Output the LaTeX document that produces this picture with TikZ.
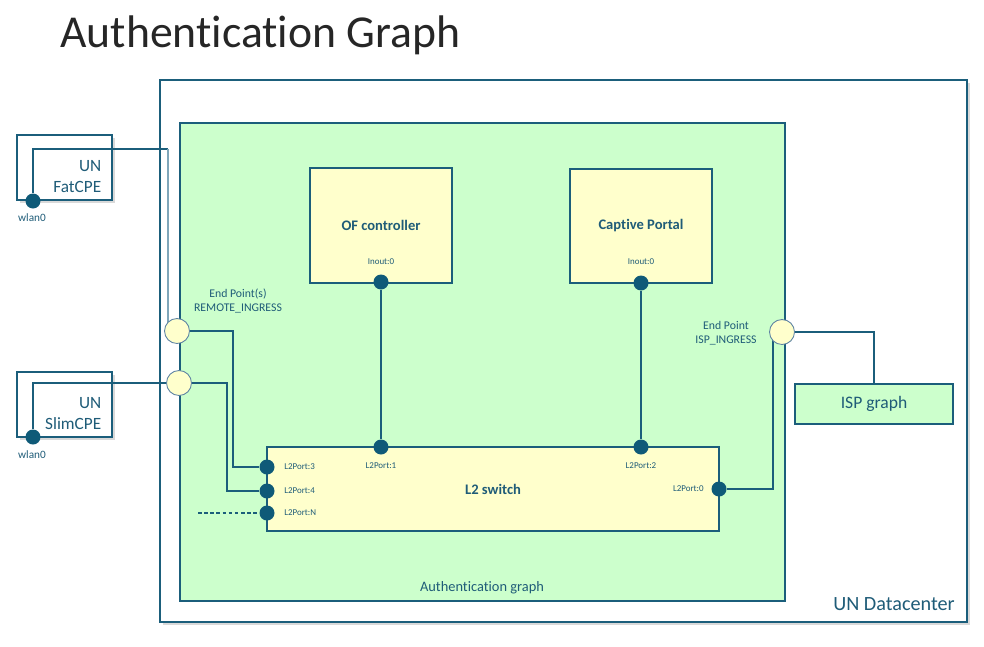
\documentclass[tikz,border=0pt]{standalone}
\usepackage{fontspec}
\setmainfont{Carlito}[RawFeature=-liga]
\usetikzlibrary{calc,fit,shadows}

\definecolor{unteal}{HTML}{1B5E7B}
\definecolor{untext}{HTML}{1F5C78}
\definecolor{undot}{HTML}{0F5A78}
\definecolor{unlight}{HTML}{7FA6B9}
\definecolor{unedge}{HTML}{5F84A3}
\definecolor{unyellow}{HTML}{FFFFCC}
\definecolor{ungreen}{HTML}{CCFFCC}

\pgfdeclarelayer{bg}
\pgfdeclarelayer{wires}
\pgfsetlayers{bg,wires,main}

\tikzset{
  box/.style={draw=unteal, line width=0.65pt, inner sep=0pt},
  yellowbox/.style={box, fill=unyellow},
  greenbox/.style={box, fill=ungreen},
  shadowbox/.style={box, fill=white, drop shadow={shadow xshift=1.6pt, shadow yshift=-1.6pt, opacity=0.3}},
  boxtext/.style={inner sep=0pt, text=untext, font=\fontsize{8.3}{10}\selectfont\bfseries},
  port/.style={circle, fill=undot, inner sep=0pt, minimum size=0.3cm},
  endpt/.style={circle, draw=unedge, fill=unyellow, line width=0.5pt, inner sep=0pt, minimum size=0.5cm},
  wire/.style={draw=unteal, line width=0.6pt},
  tiny/.style={inner sep=0pt, text=untext, font=\fontsize{5.1}{6}\selectfont},
  note/.style={inner sep=0pt, text=untext, align=center, font=\fontsize{6.7}{8}\selectfont},
  cpetext/.style={inner sep=0pt, text=untext, align=right, font=\fontsize{9.8}{12.4}\selectfont}
}

\begin{document}
\begin{tikzpicture}[x=0.02cm,y=-0.02cm]
\useasboundingbox (0,0) rectangle (984,646);

\node[anchor=base west, inner sep=0pt, text=black!85, font=\fontsize{26}{30}\selectfont] (title) at (60,47) {Authentication Graph};

\begin{pgfonlayer}{bg}
\node[shadowbox, fit={(160,80) (967,622)}] (dc) {};
\node[greenbox, fit={(180,123) (785,601)}] (auth) {};
\node[yellowbox, fit={(310,168) (452,283)}] (ofc) {};
\node[yellowbox, fit={(570,169) (712,283)}] (cp) {};
\node[yellowbox, fit={(267,447) (719,531)}] (l2) {};
\node[greenbox, fit={(795,384) (953,424)}] (ispg) {};
\node[shadowbox, fit={(17,135) (112,200)}] (fat) {};
\node[shadowbox, fit={(17,372) (112,437)}] (slim) {};
\end{pgfonlayer}

\node[boxtext] (ofctext) at (ofc.center) {OF controller};
\node[boxtext] (cptext) at (cp.center) {Captive Portal};
\node[boxtext] (l2text) at (l2.center) {L2 switch};
\node[inner sep=0pt, text=untext, font=\fontsize{10}{12}\selectfont] (ispgtext) at (ispg.center) {ISP graph};
\node[cpetext, anchor=east] (fattext) at ($(fat.east)+(-11,9)$) {UN\\FatCPE};
\node[cpetext, anchor=east] (slimtext) at ($(slim.east)+(-11,9)$) {UN\\SlimCPE};
\node[inner sep=0pt, text=untext, font=\fontsize{11.5}{13}\selectfont] (dctext) at (894,604) {UN Datacenter};
\node[inner sep=0pt, text=untext, font=\fontsize{8.2}{9}\selectfont] (authtext) at (482,588) {Authentication graph};
\node[note] (remotetext) at (238,301) {End Point(s)\\REMOTE\_INGRESS};
\node[note] (isptext) at (726,333) {End Point\\ISP\_INGRESS};

\node[port] (fatdot) at (33,201) {};
\node[port] (slimdot) at (33,437) {};
\node[tiny, font=\fontsize{6.4}{7}\selectfont] (fatwlan) at (32,218) {wlan0};
\node[tiny, font=\fontsize{6.4}{7}\selectfont] (slimwlan) at (32,455) {wlan0};

\node[endpt] (epremote) at (177,331) {};
\node[endpt] (epslim) at (179,383) {};
\node[endpt] (episp) at (782,332) {};

\node[port] (ofdot) at (381,282) {};
\node[port] (cpdot) at (641,283) {};
\node[port] (p1) at (381,447) {};
\node[port] (p2) at (641,447) {};
\node[port] (p3) at (267,467) {};
\node[port] (p4) at (267,491) {};
\node[port] (pN) at (267,513) {};
\node[port] (p0) at (719,489) {};

\node[tiny] (ofin) at (381,262) {Inout:0};
\node[tiny] (cpin) at (641,262) {Inout:0};
\node[tiny] (p1text) at (381,466) {L2Port:1};
\node[tiny] (p2text) at (641,466) {L2Port:2};
\node[tiny, anchor=west] (p3text) at (284,467) {L2Port:3};
\node[tiny, anchor=west] (p4text) at (284,491) {L2Port:4};
\node[tiny, anchor=west] (pNtext) at (284,513) {L2Port:N};
\node[tiny, anchor=east] (p0text) at (704,489) {L2Port:0};

\begin{pgfonlayer}{wires}
\coordinate (fatturn) at (168,149);
\coordinate (pNfree) at (198,513);
\draw[wire] (fatdot) |- (fatturn);
\draw[wire, draw=unlight, line width=1pt] (fatturn) -- (fatturn |- epremote.center);
\draw[wire] (slimdot) |- (epslim);
\draw[wire] (epremote) -| ($(p3)+(-34,0)$) -- (p3);
\draw[wire] (epslim) -| ($(p4)+(-40,0)$) -- (p4);
\draw[wire, dash pattern=on 2pt off 1.5pt] (pNfree) -- (pN);
\draw[wire] (ofdot) -- (p1);
\draw[wire] (cpdot) -- (p2);
\draw[wire] (p0) -| ($(episp.center)+(-9,0)$);
\draw[wire] (episp) -| (ispg);
\end{pgfonlayer}
\end{tikzpicture}
\end{document}
